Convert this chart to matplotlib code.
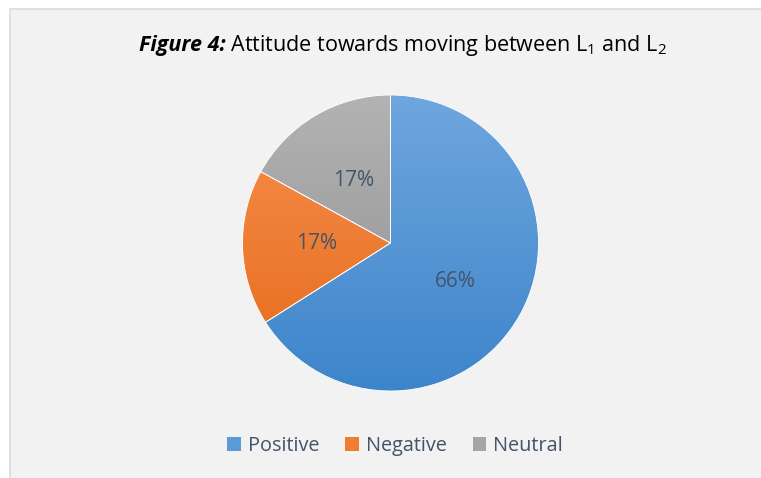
import numpy as np
import matplotlib.pyplot as plt
from matplotlib.patches import Rectangle
from matplotlib.colors import LinearSegmentedColormap

categories = ["Positive", "Negative", "Neutral"]
shares = [66, 17, 17]
labels = ["66%", "17%", "17%"]
# gradient colours (top, bottom) for each slice
grad = [("#6fa6de", "#3d85cb"), ("#f8904f", "#e46a1a"), ("#b3b3b3", "#8e8e8e")]
base = ["#5b9bd5", "#ed7d31", "#a5a5a5"]
txt_col = "#44546a"

plt.rcParams['font.family'] = ['Open Sans', 'DejaVu Sans']
plt.rcParams['mathtext.fontset'] = 'custom'
plt.rcParams['mathtext.rm'] = 'Open Sans'
plt.rcParams['mathtext.it'] = 'Open Sans:italic'
plt.rcParams['mathtext.bf'] = 'Open Sans:bold'

fig = plt.figure(figsize=(7.61, 4.78), dpi=100)
fig.patch.set_facecolor("white")
# chart area frame
fig.patches.append(Rectangle((10 / 761, -0.1), 1.1, 1 - 9 / 478 + 0.1, transform=fig.transFigure,
                             facecolor="#f2f2f2", edgecolor="#d6dce8", lw=1.2, zorder=-5))

ax = fig.add_axes([242 / 761, 1 - 391 / 478, 297 / 761, 296 / 478])
ax.set_facecolor("none")
ax.set_zorder(2)
wedges, _ = ax.pie(shares, colors=base, startangle=90, counterclock=False, radius=1,
                   wedgeprops=dict(edgecolor="white", linewidth=0.6))

# vertical gradient fill clipped to each wedge
ramp = np.linspace(0, 1, 256).reshape(-1, 1)
for w, (c_top, c_bot) in zip(wedges, grad):
    cmap = LinearSegmentedColormap.from_list("g", [c_bot, c_top])
    im = ax.imshow(ramp, cmap=cmap, extent=(-1, 1, -1, 1), origin="lower",
                   aspect="auto", zorder=1)
    im.set_clip_path(w)
    w.set_facecolor("none")
    w.set_zorder(2)
ax.set_xlim(-1.0, 1.0)
ax.set_ylim(-1.0, 1.0)
ax.set_aspect("equal")
ax.axis("off")

# label positions in data units
lab_pos = [(0.44, -0.26), (-0.50, 0.0), (-0.25, 0.42)]
for (x, y), t in zip(lab_pos, labels):
    ax.text(x, y, t, ha="center", va="center", fontsize=15, color=txt_col, zorder=5)

# title: bold italic prefix + regular rest, centred together
ty = 1 - 46 / 478
t1 = fig.text(0, ty, "Figure 4:", fontsize=15.5, fontweight="bold", fontstyle="italic",
              va="center", ha="left")
t2 = fig.text(0, ty, " Attitude towards moving between L$_1$ and L$_2$", fontsize=15.5,
              va="center", ha="left")
fig.canvas.draw()
r = fig.canvas.get_renderer()
w1 = t1.get_window_extent(r).width / fig.bbox.width
w2 = t2.get_window_extent(r).width / fig.bbox.width
x0 = 403 / 761 - (w1 + w2) / 2
t1.set_x(x0)
t2.set_x(x0 + w1)

handles = [Rectangle((0, 0), 1, 1, facecolor=c, edgecolor="none") for c in base]
fig.legend(handles, categories, loc="center", bbox_to_anchor=(395 / 761, 1 - 446 / 478),
           ncol=3, frameon=False, fontsize=14.3, labelcolor=txt_col,
           handlelength=0.7, handleheight=0.7, handletextpad=0.35, columnspacing=1.3)

fig.savefig("out.png", dpi=100)
